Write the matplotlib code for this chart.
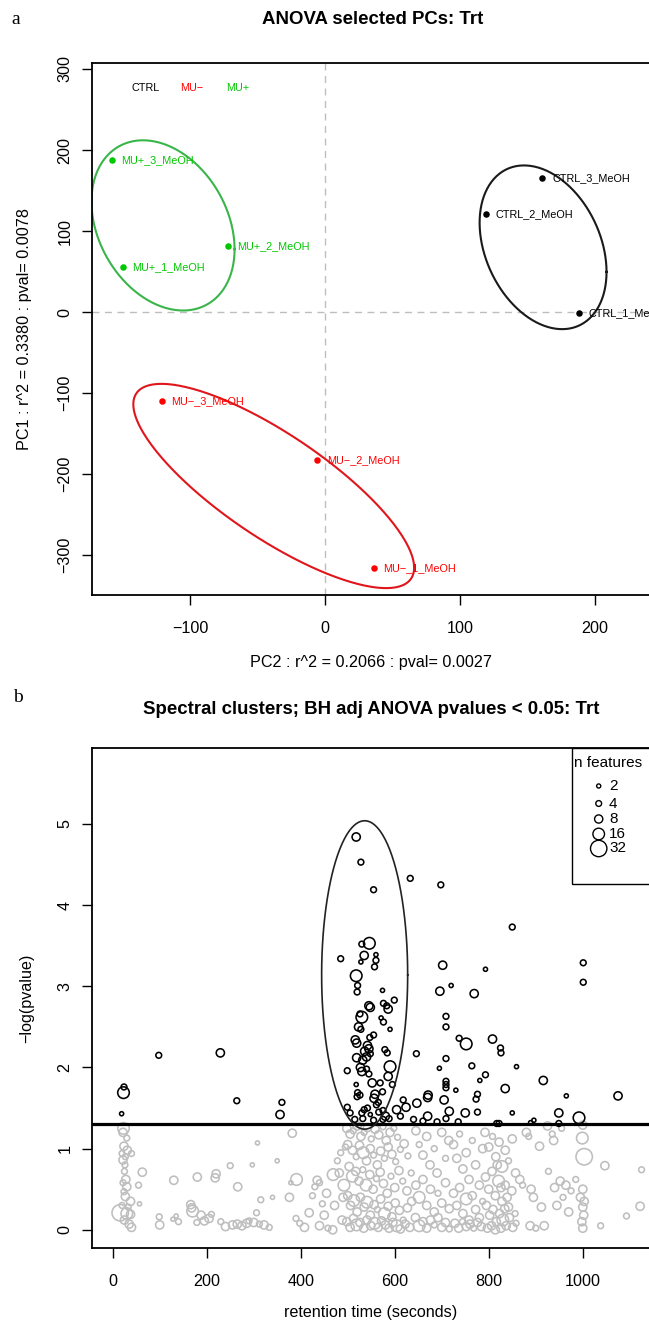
import numpy as np
import matplotlib
matplotlib.use("Agg")
import matplotlib.pyplot as plt
from matplotlib.patches import Rectangle

plt.rcParams['font.family'] = ['Liberation Sans', 'DejaVu Sans']

W, H = 649, 1324

# ---- panel a: PCA scores ----
groups = ['CTRL', 'MU\u2212', 'MU+']
group_colors = ['black', '#FF0000', '#00C800']
ellipse_colors = ['#1A1A1A', '#E0161C', '#3AB54A']
sample_names = [
    ['CTRL_1_MeOH', 'CTRL_2_MeOH', 'CTRL_3_MeOH'],
    ['MU\u2212_1_MeOH', 'MU\u2212_2_MeOH', 'MU\u2212_3_MeOH'],
    ['MU+_1_MeOH', 'MU+_2_MeOH', 'MU+_3_MeOH'],
]
pc2 = [[188, 119, 161], [36, -6, -121], [-150, -72, -158]]
pc1 = [[-1, 121, 165], [-316, -182, -110], [56, 81, 188]]
# ellipse: centre x, centre y, half-width, half-height, correlation
ell_params = [
    [161.5, 80, 47, 101, -0.30],
    [-38, -214.5, 104, 126, -0.80],
    [-120, 107, 53, 105, -0.28],
]

# ---- panel b: spectral clusters ----
# (retention time, -log10 p, n features)
sig_clusters = [
    (24, 1.76, 4), (23, 1.69, 16), (19, 1.43, 2), (98, 2.15, 4), (229, 2.18, 8),
    (264, 1.59, 4), (360, 1.57, 4), (356, 1.42, 8),
    (518, 4.84, 8), (528, 4.53, 4), (555, 4.19, 4), (546, 3.53, 16), (530, 3.52, 4),
    (535, 3.38, 8), (560, 3.39, 2), (560, 3.32, 4), (528, 3.30, 2), (557, 3.24, 4),
    (485, 3.34, 4), (518, 3.13, 16), (521, 3.01, 4), (520, 2.93, 4), (574, 2.95, 2),
    (599, 2.83, 4), (576, 2.79, 4), (586, 2.72, 8), (583, 2.76, 4), (545, 2.76, 8),
    (548, 2.74, 8), (526, 2.66, 4), (530, 2.62, 16), (571, 2.61, 2), (576, 2.56, 4),
    (523, 2.50, 8), (528, 2.47, 4), (590, 2.47, 2), (555, 2.40, 4), (547, 2.37, 4),
    (516, 2.34, 8), (519, 2.30, 8), (542, 2.27, 8), (545, 2.23, 8), (536, 2.20, 8),
    (548, 2.17, 4), (540, 2.13, 8), (579, 2.22, 4), (584, 2.18, 4), (519, 2.12, 8),
    (532, 2.09, 8), (590, 2.01, 16), (499, 1.96, 4), (527, 2.00, 8), (530, 1.95, 8),
    (540, 1.98, 4), (545, 1.92, 4), (518, 1.79, 2), (552, 1.81, 8), (569, 1.81, 4),
    (586, 1.89, 8), (595, 1.79, 4), (521, 1.69, 4), (520, 1.64, 4), (526, 1.66, 4),
    (558, 1.67, 8), (574, 1.70, 4), (556, 1.62, 8), (565, 1.57, 4), (561, 1.54, 4),
    (499, 1.51, 4), (505, 1.44, 4), (535, 1.48, 4), (542, 1.50, 4), (530, 1.44, 4),
    (575, 1.47, 4), (580, 1.40, 8), (588, 1.37, 4), (515, 1.36, 4), (532, 1.37, 4),
    (555, 1.35, 4), (575, 1.36, 4), (548, 1.42, 2), (566, 1.45, 4),
    (633, 4.33, 4), (698, 4.25, 4), (850, 3.73, 4), (702, 3.26, 8), (793, 3.21, 2),
    (696, 2.94, 8), (720, 3.01, 2), (769, 2.91, 8), (1001, 3.29, 4), (1001, 3.05, 4),
    (646, 2.17, 4), (709, 2.63, 4), (709, 2.50, 4), (737, 2.36, 4), (752, 2.29, 16),
    (808, 2.35, 8), (825, 2.24, 4), (826, 2.18, 4), (709, 2.11, 4), (695, 1.99, 2),
    (764, 2.02, 4), (859, 2.01, 2), (793, 1.91, 4), (781, 1.84, 2), (709, 1.83, 4),
    (709, 1.79, 4), (709, 1.75, 4), (916, 1.84, 8), (730, 1.72, 2), (835, 1.74, 8),
    (776, 1.67, 4), (773, 1.61, 4), (671, 1.66, 8), (670, 1.63, 8), (705, 1.60, 8),
    (647, 1.56, 8), (618, 1.60, 4), (624, 1.51, 8), (604, 1.48, 8), (716, 1.46, 8),
    (750, 1.44, 8), (776, 1.45, 4), (670, 1.40, 8), (709, 1.37, 4), (735, 1.33, 4),
    (850, 1.44, 2), (949, 1.44, 8), (965, 1.65, 2), (1075, 1.65, 8), (992, 1.38, 16),
    (896, 1.35, 2), (817, 1.31, 4), (822, 1.31, 4), (889, 1.32, 2), (949, 1.31, 4),
    (612, 1.40, 4), (640, 1.36, 4), (660, 1.34, 4), (690, 1.33, 4),
]

nonsig_clusters = [
    (23, 1.25, 16), (22, 1.20, 8), (30, 1.13, 4), (24, 1.03, 8), (31, 0.98, 8),
    (20, 0.94, 4), (27, 0.90, 4), (22, 0.86, 8), (26, 0.80, 4), (40, 0.94, 4),
    (25, 0.72, 4), (28, 0.62, 8), (22, 0.58, 4), (30, 0.53, 8), (24, 0.47, 4),
    (27, 0.41, 8), (38, 0.35, 8), (16, 0.21, 32), (30, 0.20, 16), (38, 0.19, 8),
    (25, 0.12, 8), (35, 0.07, 8), (40, 0.03, 8), (57, 0.32, 2), (55, 0.55, 4),
    (63, 0.71, 8), (20, 0.30, 4), (33, 0.28, 4),
    (99, 0.16, 4), (100, 0.06, 8), (130, 0.61, 8), (128, 0.13, 2), (135, 0.17, 2),
    (140, 0.10, 4), (168, 0.27, 8), (166, 0.31, 8), (170, 0.23, 16), (180, 0.65, 8),
    (179, 0.09, 4), (188, 0.18, 8), (195, 0.11, 8), (205, 0.14, 8), (210, 0.19, 4),
    (220, 0.69, 8), (218, 0.64, 8), (230, 0.10, 4), (240, 0.04, 8), (250, 0.79, 4),
    (255, 0.06, 8), (265, 0.07, 8), (266, 0.53, 8), (275, 0.05, 8), (285, 0.08, 8),
    (290, 0.11, 4), (297, 0.80, 2), (300, 0.09, 8), (306, 0.21, 4), (308, 1.07, 2),
    (312, 0.07, 4), (315, 0.37, 4), (322, 0.06, 8), (333, 0.03, 4), (340, 0.40, 2),
    (350, 0.85, 2),
    (376, 0.40, 8), (382, 1.19, 8), (391, 0.62, 16), (379, 0.58, 2), (390, 0.14, 4),
    (398, 0.08, 4), (408, 0.03, 8), (418, 0.21, 8), (425, 0.42, 4), (430, 0.53, 4),
    (435, 0.61, 8), (440, 0.58, 4), (446, 0.32, 4), (450, 0.18, 8), (455, 0.45, 8),
    (440, 0.05, 8), (458, 0.02, 4), (468, 0.00, 8), (469, 0.68, 16), (472, 0.30, 8),
    (478, 0.85, 4), (482, 0.70, 8), (485, 0.95, 4), (488, 0.12, 8), (490, 0.40, 8),
    (492, 0.55, 16), (495, 1.02, 4),
    (498, 1.25, 8), (505, 1.18, 8), (512, 1.22, 4), (520, 1.28, 8), (528, 1.15, 8),
    (535, 1.20, 4), (542, 1.26, 8), (550, 1.12, 4), (558, 1.24, 8), (566, 1.17, 8),
    (575, 1.27, 4), (582, 1.10, 8), (590, 1.20, 8), (598, 1.25, 4), (606, 1.14, 4),
    (500, 1.05, 8), (510, 0.98, 8), (518, 0.90, 4), (525, 1.04, 8), (533, 0.95, 16),
    (540, 0.85, 8), (548, 1.00, 8), (555, 0.92, 4), (563, 0.80, 8), (570, 0.97, 8),
    (578, 0.88, 4), (586, 1.02, 8), (594, 0.93, 8), (602, 0.84, 4), (612, 0.99, 4),
    (620, 1.06, 8), (628, 0.91, 4),
    (503, 0.78, 8), (510, 0.66, 16), (517, 0.72, 8), (524, 0.60, 8), (532, 0.74, 4),
    (539, 0.55, 16), (547, 0.68, 8), (554, 0.50, 8), (561, 0.63, 4), (569, 0.71, 8),
    (576, 0.57, 8), (584, 0.45, 8), (592, 0.66, 4), (600, 0.52, 8), (609, 0.73, 8),
    (617, 0.60, 4), (626, 0.48, 8), (635, 0.70, 4),
    (500, 0.42, 8), (506, 0.30, 8), (513, 0.36, 16), (520, 0.22, 8), (527, 0.40, 8),
    (535, 0.28, 8), (541, 0.34, 16), (548, 0.18, 8), (556, 0.31, 8), (563, 0.25, 4),
    (570, 0.38, 8), (578, 0.20, 16), (586, 0.29, 8), (594, 0.16, 8), (601, 0.33, 8),
    (610, 0.24, 8), (618, 0.12, 4), (627, 0.27, 8), (636, 0.35, 8),
    (498, 0.10, 8), (505, 0.03, 8), (512, 0.14, 8), (519, 0.06, 16), (526, 0.09, 8),
    (534, 0.02, 8), (541, 0.12, 8), (549, 0.05, 8), (557, 0.08, 16), (565, 0.03, 8),
    (572, 0.11, 8), (580, 0.06, 8), (588, 0.02, 8), (596, 0.09, 8), (604, 0.05, 16),
    (612, 0.01, 8), (622, 0.07, 8), (632, 0.03, 8),
    (645, 1.22, 8), (652, 1.05, 4), (660, 0.92, 8), (668, 1.15, 8), (675, 0.80, 8),
    (684, 1.00, 4), (690, 0.70, 8), (700, 1.20, 8), (708, 0.88, 4), (715, 1.10, 8),
    (645, 0.55, 8), (652, 0.40, 16), (660, 0.62, 8), (668, 0.30, 8), (676, 0.50, 8),
    (684, 0.22, 8), (692, 0.45, 4), (700, 0.33, 8), (708, 0.58, 8), (716, 0.26, 8),
    (644, 0.15, 8), (652, 0.05, 16), (660, 0.10, 8), (668, 0.02, 8), (676, 0.12, 8),
    (684, 0.06, 4), (692, 0.15, 8), (700, 0.03, 8), (708, 0.09, 8), (716, 0.01, 4),
    (725, 1.05, 8), (732, 0.88, 8), (738, 1.18, 4), (745, 0.75, 8), (752, 0.95, 8),
    (758, 0.62, 8), (765, 1.10, 4), (772, 0.80, 8), (780, 0.55, 8), (787, 1.00, 8),
    (725, 0.45, 8), (732, 0.30, 8), (738, 0.52, 8), (745, 0.20, 8), (752, 0.38, 16),
    (758, 0.12, 8), (765, 0.42, 8), (772, 0.25, 8), (780, 0.15, 8), (787, 0.35, 4),
    (728, 0.08, 8), (736, 0.02, 8), (744, 0.10, 4), (752, 0.04, 8), (760, 0.07, 8),
    (768, 0.02, 4), (776, 0.09, 8), (784, 0.04, 8),
    (792, 1.20, 8), (800, 1.02, 8), (808, 1.15, 4), (815, 0.90, 8), (822, 1.08, 8),
    (828, 0.78, 16), (835, 0.98, 8), (842, 0.85, 4), (850, 1.12, 8), (857, 0.70, 8),
    (793, 0.65, 8), (800, 0.50, 8), (807, 0.72, 8), (814, 0.42, 8), (821, 0.60, 16),
    (828, 0.35, 8), (835, 0.55, 8), (842, 0.28, 8), (849, 0.48, 8), (856, 0.20, 4),
    (795, 0.30, 8), (802, 0.18, 8), (809, 0.25, 8), (816, 0.10, 8), (823, 0.20, 8),
    (830, 0.12, 16), (837, 0.05, 8), (844, 0.15, 8), (851, 0.03, 8), (858, 0.08, 4),
    (797, 0.02, 8), (806, 0.05, 8), (814, 0.00, 8), (826, 0.02, 8), (834, 0.26, 8),
    (818, 0.80, 8), (826, 0.52, 8), (839, 0.40, 8),
    (866, 0.62, 8), (872, 0.55, 4), (880, 1.20, 8), (885, 1.15, 4), (890, 0.50, 8),
    (895, 0.40, 8), (888, 0.05, 8), (900, 0.02, 4), (908, 1.03, 8), (912, 0.28, 8),
    (918, 0.05, 8), (927, 0.72, 4), (935, 1.18, 4), (938, 1.10, 8), (940, 0.52, 8),
    (945, 0.30, 8), (952, 0.60, 8), (958, 0.40, 4), (964, 0.55, 8), (970, 0.22, 8),
    (975, 0.48, 4), (955, 1.25, 4), (925, 1.28, 8),
    (1003, 0.90, 32), (999, 1.13, 16), (1000, 1.29, 8), (1000, 0.50, 8), (995, 0.40, 8),
    (1003, 0.35, 8), (1000, 0.28, 8), (1002, 0.18, 8), (998, 0.10, 8), (1000, 0.02, 8),
    (1047, 0.79, 8), (1125, 0.74, 4), (1122, 0.29, 8), (1093, 0.17, 4), (1038, 0.05, 4),
    (985, 0.62, 4),
]

p_cutoff = 0.05
# highlighted cluster ellipse: centre rt, centre -log p, half-width, half-height
cluster_ellipse = [536, 3.14, 91.5, 1.9]
legend_sizes = [2, 4, 8, 16, 32]


def box(px_left, px_top, px_right, px_bottom):
    return [px_left / W, 1 - px_bottom / H, (px_right - px_left) / W,
            (px_bottom - px_top) / H]


def msize(n):
    d_px = 2.9 * np.sqrt(np.asarray(n, dtype=float))
    return (d_px * 72 / 100) ** 2


def style_axes(ax):
    for s in ax.spines.values():
        s.set_linewidth(1.3)
    ax.tick_params(direction='out', length=7.2, width=1.0, labelsize=11.6)
    ax.tick_params(axis='x', pad=11.5)
    ax.tick_params(axis='y', pad=7, labelrotation=90)
    for lab in ax.get_yticklabels():
        lab.set_va('center')


fig = plt.figure(figsize=(W / 100, H / 100), dpi=100)

# ------------------- panel a -------------------
ax1 = fig.add_axes(box(92, 63.3, 650, 595))
ax1.set_xlim(-172.6, 240.7)
ax1.set_ylim(-349, 307)
ax1.axhline(0, color='#BEBEBE', lw=1.0, ls=(0, (5, 4)), zorder=1)
ax1.axvline(0, color='#BEBEBE', lw=1.0, ls=(0, (5, 4)), zorder=1)

t = np.linspace(0, 2 * np.pi, 300)
for g in range(3):
    cx, cy, a, b, rho = ell_params[g]
    ax1.plot(cx + a * np.cos(t), cy + b * np.cos(t + np.arccos(rho)),
             color=ellipse_colors[g], lw=1.5, zorder=2)
    ax1.scatter(pc2[g], pc1[g], s=22, color=group_colors[g], zorder=3, linewidths=0)
    for xv, yv, name in zip(pc2[g], pc1[g], sample_names[g]):
        ax1.annotate(name, (xv, yv), xytext=(7, 0), textcoords='offset points',
                     ha='left', va='center', fontsize=7.8, color=group_colors[g],
                     annotation_clip=False)

for g, xpos in zip(range(3), [-133, -98.5, -65]):
    ax1.text(xpos, 277, groups[g], color=group_colors[g], fontsize=7.8,
             ha='center', va='center')

ax1.set_xticks([-100, 0, 100, 200])
ax1.set_yticks([-300, -200, -100, 0, 100, 200, 300])
style_axes(ax1)

fig.text(373 / W, 1 - 20 / H, 'ANOVA selected PCs: Trt', ha='center', va='center',
         fontsize=13.4, fontweight='bold')
fig.text(371 / W, 1 - 663 / H, 'PC2 : r^2 = 0.2066 : pval= 0.0027', ha='center',
         va='center', fontsize=11.6)
fig.text(25 / W, 1 - 329 / H, 'PC1 : r^2 = 0.3380 : pval= 0.0078', ha='center',
         va='center', fontsize=11.6, rotation=90)
fig.text(16 / W, 1 - 19 / H, 'a', ha='center', va='center', fontsize=14,
         family='Liberation Serif')

# ------------------- panel b -------------------
ax2 = fig.add_axes(box(92, 747.7, 650, 1248.3))
ax2.set_xlim(-44, 1143)
ax2.set_ylim(-0.228, 5.94)

ns_rt = [c[0] for c in nonsig_clusters]
ns_lp = [c[1] for c in nonsig_clusters]
ns_n = [c[2] for c in nonsig_clusters]
sg_rt = [c[0] for c in sig_clusters]
sg_lp = [c[1] for c in sig_clusters]
sg_n = [c[2] for c in sig_clusters]

ax2.scatter(ns_rt, ns_lp, s=msize(ns_n), facecolors='none', edgecolors='#BEBEBE',
            linewidths=1.15, zorder=2)
ax2.scatter(sg_rt, sg_lp, s=msize(sg_n), facecolors='none', edgecolors='black',
            linewidths=1.15, zorder=3)
ax2.axhline(-np.log10(p_cutoff), color='black', lw=2.3, zorder=4)

ecx, ecy, ea, eb = cluster_ellipse
ax2.plot(ecx + ea * np.cos(t), ecy + eb * np.sin(t), color='#222222', lw=1.2, zorder=4)

ax2.set_xticks([0, 200, 400, 600, 800, 1000])
ax2.set_yticks([0, 1, 2, 3, 4, 5])
style_axes(ax2)

# size legend (n features)
ax2.add_patch(Rectangle((572 / W, 1 - 883.5 / H), 0.2, (883.5 - 747.7) / H,
                        transform=fig.transFigure, fill=False, lw=1.0,
                        edgecolor='black', zorder=6, clip_on=False))
fig.text(574.5 / W, 1 - 763 / H, 'n features', ha='left', va='center', fontsize=11)
for n, ypx in zip(legend_sizes, [786, 803.5, 819, 834, 848.5]):
    fig.text(609 / W, 1 - ypx / H, str(n), ha='left', va='center', fontsize=11)
    ax2.scatter([598.7 / W], [1 - ypx / H], s=msize(n), facecolors='none',
                edgecolors='black', linewidths=1.0, transform=fig.transFigure,
                clip_on=False, zorder=7)

fig.text(371 / W, 1 - 710 / H, 'Spectral clusters; BH adj ANOVA pvalues < 0.05: Trt',
         ha='center', va='center', fontsize=13.4, fontweight='bold')
fig.text(371 / W, 1 - 1313 / H, 'retention time (seconds)', ha='center',
         va='center', fontsize=11.6)
fig.text(27 / W, 1 - 998 / H, '\u2212log(pvalue)', ha='center', va='center',
         fontsize=11.6, rotation=90)
fig.text(18 / W, 1 - 697 / H, 'b', ha='center', va='center', fontsize=14,
         family='Liberation Serif')

fig.savefig('out.png', dpi=100)
